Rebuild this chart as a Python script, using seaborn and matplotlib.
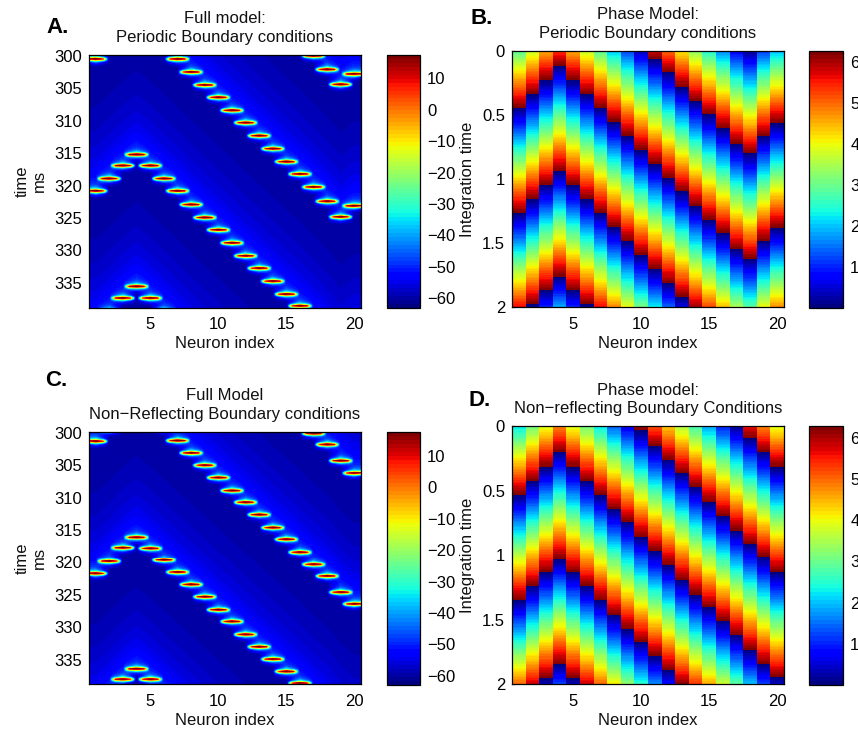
"""
Four panel figure: full model vs phase model, periodic and non-reflecting boundaries.

The arrays below hold what was read off the picture: spike times (ms) and phase
wrap times per neuron. The cell matrices are rebuilt from them: the spike shape
and the ramps between wraps are an approximation, not values read cell by cell.
"""

import numpy as np
import matplotlib
matplotlib.use('Agg')
import matplotlib.pyplot as plt
import seaborn as sns

W, H = 858, 731

sns.set_theme(style='white')
plt.rcParams.update({
    'font.family': ['Liberation Sans', 'DejaVu Sans'],
    'font.size': 12,
    'axes.edgecolor': 'black',
    'axes.linewidth': 0.9,
    'text.color': '#111111',
    'axes.labelcolor': '#111111',
    'xtick.color': 'black',
    'ytick.color': 'black',
})

NEURON_TICKS = [5, 10, 15, 20]
TIME_TICKS = [300, 305, 310, 315, 320, 325, 330, 335]
INTEGRATION_TICKS = [0, 0.5, 1, 1.5, 2]
INTEGRATION_LABELS = ['0', '0.5', '1', '1.5', '2']
VOLT_TICKS = [-60, -50, -40, -30, -20, -10, 0, 10]
PHASE_TICKS = [1, 2, 3, 4, 5, 6]

# spike times per neuron, ms
SPIKES_A = [
    [300.5, 320.8], [318.9], [316.9, 337.3], [315.2, 335.5], [316.9, 337.3],
    [318.9], [300.5, 320.8], [302.5, 322.9], [304.5, 324.9], [306.4, 326.8],
    [308.4, 328.8], [310.3, 330.8], [312.3, 332.7], [314.3, 334.7], [316.3, 336.7],
    [318.2, 338.5], [300.0, 320.2], [302.1, 322.4], [304.4, 324.8], [302.8, 323.1],
]
SPIKES_C = [
    [301.3, 321.8], [319.9], [317.7, 338.1], [316.1, 336.5], [317.8, 338.1],
    [319.7], [301.2, 321.6], [303.1, 323.5], [305.0, 325.4], [306.9, 327.4],
    [308.9, 329.2], [310.7, 331.2], [312.6, 333.1], [314.6, 335.0], [316.4, 336.9],
    [318.4, 338.7], [300.1, 320.4], [301.8, 322.2], [304.3, 324.7], [306.2, 326.5],
]

# times at which the phase wraps from 2 pi to 0, per neuron
WRAPS_B = [
    [0.444, 1.262], [0.338, 1.156, 1.977], [0.229, 1.047, 1.865], [0.119, 0.940, 1.756],
    [0.229, 1.047, 1.865], [0.338, 1.156, 1.977], [0.444, 1.262], [0.553, 1.374],
    [0.662, 1.483], [0.774, 1.592], [0.065, 0.881, 1.701], [0.171, 0.990, 1.810],
    [0.283, 1.099, 1.919], [0.392, 1.208], [0.499, 1.319], [0.603, 1.423],
    [0.725, 1.545], [0.803, 1.623], [0.665, 1.481], [0.564, 1.382],
]
WRAPS_D = [
    [0.532, 1.346], [0.424, 1.238], [0.315, 1.129, 1.953], [0.199, 1.028, 1.842],
    [0.315, 1.129, 1.953], [0.424, 1.238], [0.532, 1.346], [0.641, 1.463],
    [0.742, 1.571], [0.036, 0.858, 1.672], [0.152, 0.966, 1.780], [0.261, 1.075, 1.889],
    [0.362, 1.191], [0.470, 1.300], [0.587, 1.401], [0.695, 1.509],
    [0.804, 1.618], [0.090, 0.912, 1.734], [0.199, 1.013, 1.842], [0.315, 1.129, 1.943],
]

SPIKE_PERIOD = 20.4
PHASE_PERIOD = 0.818
T_START, T_END = 299.85, 338.8
N_ROWS, N_COLS = 253, 272      # one cell per pixel of the axes
SUBSAMPLE = 5
STEP = 0.008

JET = plt.get_cmap('jet', 64)


def px_axes(fig, left, top, right, bottom):
    return fig.add_axes([left / W, 1 - bottom / H, (right - left) / W, (bottom - top) / H])


def voltage_matrix(spikes):
    n_fine = N_ROWS * SUBSAMPLE
    times = T_START + (np.arange(n_fine) + 0.5) * (T_END - T_START) / n_fine
    base, core, halo = [], [], []
    for s in spikes:
        s = np.array([s[0] - SPIKE_PERIOD] + list(s) + [s[-1] + SPIKE_PERIOD])
        idx = np.searchsorted(s, times)
        to_next = s[idx] - times
        offs = times[:, None] - s[None, :]
        base.append(-61.5 + 11 * np.exp(-to_next / 8.0) + 12 * np.exp(-to_next / 0.9))
        core.append(52 * np.exp(-0.5 * (offs / 0.18) ** 2).sum(axis=1))
        halo.append(26 * np.exp(-0.5 * ((offs - 0.1) / 0.42) ** 2).sum(axis=1))
    base, core, halo = np.array(base), np.array(core), np.array(halo)

    # blend between neurons; the red core stays long, the halo tapers sooner
    x_centres = np.arange(1, 21)
    x_fine = 0.5 + (np.arange(N_COLS) + 0.5) * 20 / N_COLS
    dist = np.abs(x_fine[None, :] - x_centres[:, None])
    core_w = np.clip((0.95 - dist) / 0.4, 0, 1)
    halo_w = np.clip(1 - dist, 0, 1)
    fine = np.array([np.interp(x_fine, x_centres, base[:, i]) for i in range(n_fine)])
    fine = np.minimum(fine + core.T @ core_w + halo.T @ halo_w, 17.4)
    # average down to one row per pixel so thin spikes do not alias
    return fine.reshape(N_ROWS, SUBSAMPLE, N_COLS).mean(axis=1)


def phase_matrix(wraps):
    times = np.arange(STEP / 2, 2, STEP)
    cols = []
    for w in wraps:
        knots = np.array([w[0] - PHASE_PERIOD] + list(w) + [w[-1] + PHASE_PERIOD])
        idx = np.searchsorted(knots, times)
        frac = (times - knots[idx - 1]) / (knots[idx] - knots[idx - 1])
        cols.append(2 * np.pi * frac)
    return np.array(cols).T


def draw_panel(fig, box, cbar_box, matrix, vmin, vmax, cbar_ticks, xscale, ytick_pos, ytick_labels,
               title, ylabel, letter, letter_xy):
    ax = px_axes(fig, *box)
    cax = px_axes(fig, *cbar_box)
    sns.heatmap(matrix, ax=ax, cbar_ax=cax, cmap=JET, vmin=vmin, vmax=vmax,
                xticklabels=False, yticklabels=False, rasterized=True)
    for spine in ax.spines.values():
        spine.set_visible(True)
        spine.set_linewidth(0.9)
        spine.set_color('black')

    ax.set_xticks([(n - 0.5) * xscale for n in NEURON_TICKS])
    ax.set_xticklabels(NEURON_TICKS)
    ax.set_yticks(ytick_pos)
    ax.set_yticklabels(ytick_labels, rotation=0)
    ax.tick_params(direction='in', length=2.5, width=0.8, top=True, right=True,
                   bottom=True, left=True, labelsize=12, pad=5)
    ax.tick_params(axis='x', pad=7)
    ax.set_xlabel('Neuron index', fontsize=12, labelpad=3)
    ax.set_ylabel(ylabel, fontsize=12, labelpad=5)
    ax.set_title(title, fontsize=12, pad=9.5, linespacing=1.3)

    cbar = ax.collections[0].colorbar
    cbar.set_ticks(cbar_ticks)
    cbar.outline.set_linewidth(0.9)
    cbar.outline.set_edgecolor('black')
    cbar.ax.tick_params(direction='in', length=2.5, width=0.8, left=True, right=True,
                        labelsize=12, pad=5)

    fig.text(letter_xy[0] / W, 1 - letter_xy[1] / H, letter, fontsize=16, fontweight='bold',
             color='black', ha='left', va='baseline')
    return ax


def main():
    fig = plt.figure(figsize=(W / 100, H / 100), dpi=100)

    time_pos = [(t - T_START) * N_ROWS / (T_END - T_START) for t in TIME_TICKS]
    phase_pos = [t / STEP for t in INTEGRATION_TICKS]
    col_scale = N_COLS / 20

    draw_panel(fig, (89, 55, 361, 307.5), (386.5, 55, 420, 308), voltage_matrix(SPIKES_A),
               -63.1, 17.4, VOLT_TICKS, col_scale, time_pos, TIME_TICKS,
               'Full model:\nPeriodic Boundary conditions', 'time\nms', 'A.', (46.5, 33))
    draw_panel(fig, (512, 50.7, 784, 307.3), (809.3, 51, 843.3, 308), phase_matrix(WRAPS_B),
               0.01, 6.27, PHASE_TICKS, 1, phase_pos, INTEGRATION_LABELS,
               'Phase Model:\nPeriodic Boundary conditions', 'Integration time', 'B.', (470.5, 24))
    draw_panel(fig, (89, 431.7, 361, 684.3), (386.5, 432, 420, 685), voltage_matrix(SPIKES_C),
               -63.0, 17.7, VOLT_TICKS, col_scale, time_pos, TIME_TICKS,
               'Full Model\nNon\u2212Reflecting Boundary conditions', 'time\nms', 'C.', (45, 385.7))
    draw_panel(fig, (512, 426.3, 784, 684.3), (809.3, 426.3, 843.3, 685), phase_matrix(WRAPS_D),
               0.0, 6.275, PHASE_TICKS, 1, phase_pos, INTEGRATION_LABELS,
               'Phase model:\nNon\u2212reflecting Boundary Conditions', 'Integration time', 'D.', (469, 405.7))

    fig.savefig('out.png', dpi=100)
    plt.close(fig)


if __name__ == '__main__':
    main()
